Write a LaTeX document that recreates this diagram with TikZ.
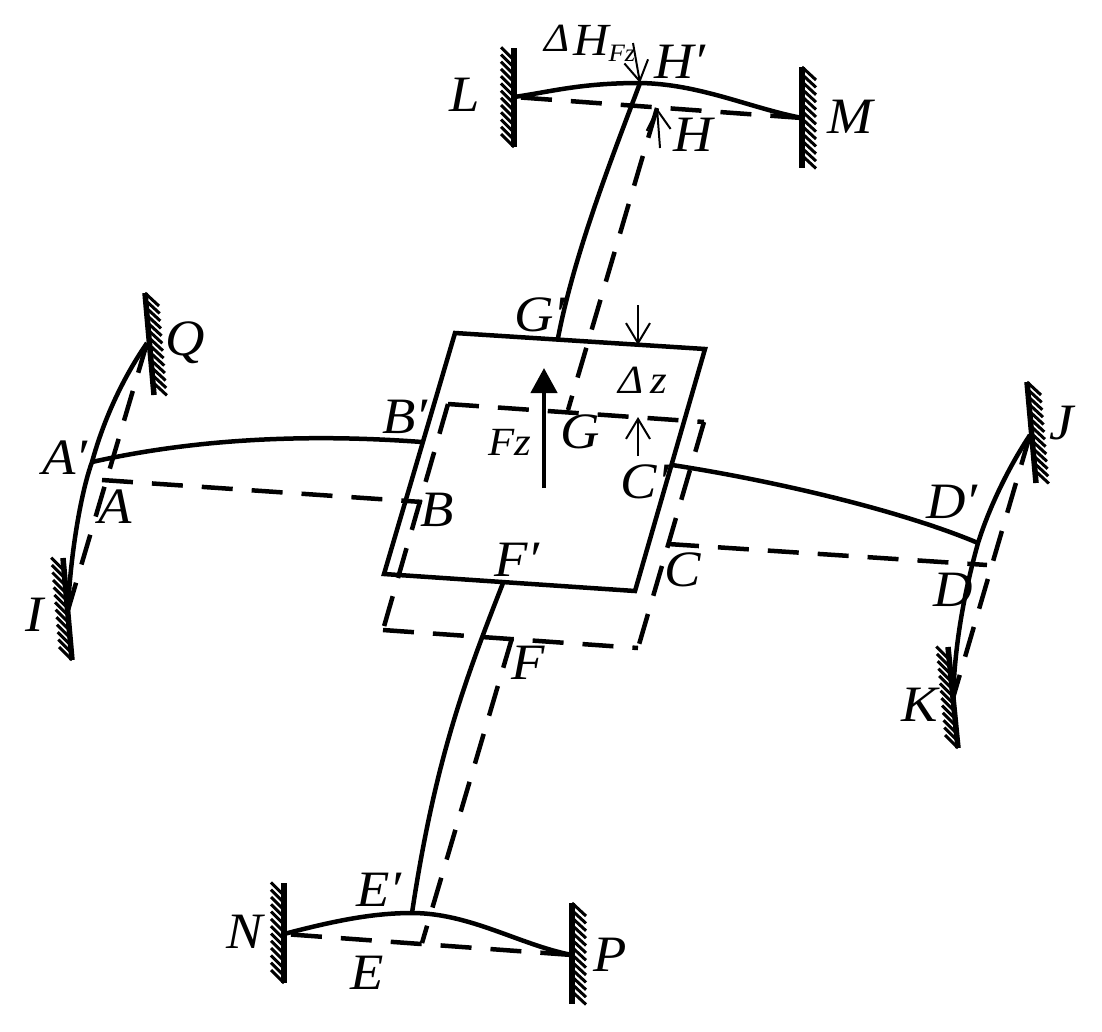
\documentclass[tikz,border=0pt]{standalone}
\usepackage{fontspec}
\usepackage{tikz}
\usepackage{xcolor}
\usetikzlibrary{calc,arrows.meta}
\setmainfont[FakeStretch=1.07]{Liberation Serif}

\newcommand{\hatchwall}[4]{%
        \draw[wallline] (#1) -- (#2);
        \foreach \i in {0,...,12} {
                \draw[hatchline] ($(#1)!\i*0.073!(#2)$) -- ++(#3,#4);
        }
}

\tikzset{
        solidline/.style={line width=4.5pt},
        dashline/.style={line width=4.5pt,dash pattern=on 31pt off 19pt},
        wallline/.style={line width=5.5pt},
        hatchline/.style={line width=3pt},
        thinarrow/.style={line width=2pt,-{Straight Barb[length=20pt,width=24pt]}},
        lbl/.style={font=\fontsize{51}{55}\selectfont\itshape,inner sep=0pt},
        smalllbl/.style={font=\fontsize{40}{44}\selectfont\itshape,inner sep=0pt}
}

\begin{document}
\begin{tikzpicture}[x=1pt,y=-1pt]
        \useasboundingbox (0,0) rectangle (1102,1031);

        % Corners of the plate, moved and at rest
        \coordinate (P1) at (455,333);
        \coordinate (P2) at (705,349);
        \coordinate (P3) at (635,591);
        \coordinate (P4) at (384,574);
        \coordinate (R1) at (448,404);
        \coordinate (R2) at (704,422);
        \coordinate (R3) at (638,648);
        \coordinate (R4) at (383,630);

        % Points on the arms
        \coordinate (Ap) at (92,462);
        \coordinate (Bp) at (422,442);
        \coordinate (Cp) at (672,465);
        \coordinate (Dp) at (978,543);
        \coordinate (Ep) at (412,913);
        \coordinate (Fp) at (503,583);
        \coordinate (Gp) at (558,338);
        \coordinate (Hp) at (640,83);
        \coordinate (A) at (102,480);
        \coordinate (B) at (422,502);
        \coordinate (C) at (668,544);
        \coordinate (D) at (987,565);
        \coordinate (E) at (422,943);
        \coordinate (F) at (512,638);
        \coordinate (G) at (568,410);
        \coordinate (H) at (657,108);

        % Fixed ends of the beams
        \coordinate (I) at (68,610);
        \coordinate (J) at (1030,435);
        \coordinate (K) at (953,698);
        \coordinate (L) at (514,97);
        \coordinate (M) at (802,118);
        \coordinate (N) at (284,934);
        \coordinate (P) at (572,955);
        \coordinate (Q) at (147,343);

        % Draw the walls
        \coordinate (La) at (514,147);
        \coordinate (Lb) at (514,48);
        \coordinate (Ma) at (802,67);
        \coordinate (Mb) at (802,168);
        \coordinate (Na) at (284,983);
        \coordinate (Nb) at (284,883);
        \coordinate (Pa) at (572,903);
        \coordinate (Pb) at (572,1004);
        \coordinate (Qa) at (145,293);
        \coordinate (Qb) at (154,395);
        \coordinate (Ia) at (72,660);
        \coordinate (Ib) at (63,558);
        \coordinate (Ja) at (1027,382);
        \coordinate (Jb) at (1036,483);
        \coordinate (Ka) at (958,748);
        \coordinate (Kb) at (948,647);
        \hatchwall{La}{Lb}{-13}{-13}
        \hatchwall{Ma}{Mb}{14}{13}
        \hatchwall{Na}{Nb}{-13}{-13}
        \hatchwall{Pa}{Pb}{14}{13}
        \hatchwall{Qa}{Qb}{14}{13}
        \hatchwall{Ia}{Ib}{-13}{-13}
        \hatchwall{Ja}{Jb}{14}{13}
        \hatchwall{Ka}{Kb}{-13}{-13}

        % Draw the plate
        \draw[solidline,line join=miter] (P1) -- (P2) -- (P3) -- (P4) -- cycle;
        \draw[dashline] (R1) -- (R2);
        \draw[dashline] (R1) -- (R4);
        \draw[dashline] (R2) -- (R3);
        \draw[dashline] (R4) -- (R3);

        % Draw the bent arms
        \draw[solidline] (Ap) .. controls (190,440) and (300,433) .. (Bp);
        \draw[solidline] (Cp) .. controls (770,480) and (900,510) .. (Dp);
        \draw[solidline] (Fp) .. controls (465,680) and (435,760) .. (Ep);
        \draw[solidline] (Gp) .. controls (575,250) and (615,150) .. (Hp);

        % Draw the arms at rest
        \draw[dashline] (A) -- (B);
        \draw[dashline] (C) -- (D);
        \draw[dashline] (F) -- (E);
        \draw[dashline] (H) -- (G);

        % Draw the beams
        \draw[solidline] (L) .. controls (550,92) and (580,83) .. (Hp)
                .. controls (700,84) and (750,108) .. (M);
        \draw[solidline] (N) .. controls (330,922) and (370,913) .. (Ep)
                .. controls (470,913) and (520,945) .. (P);
        \draw[solidline] (Q) .. controls (125,375) and (105,415) .. (Ap)
                .. controls (80,495) and (70,560) .. (I);
        \draw[solidline] (J) .. controls (1010,465) and (990,505) .. (Dp)
                .. controls (965,590) and (955,640) .. (K);
        \draw[dashline,dash phase=43pt] (L) -- (M);
        \draw[dashline,dash phase=43pt] (N) -- (P);
        \draw[dashline] (Q) -- (I);
        \draw[dashline] (J) -- (K);

        % Draw the force arrow
        \coordinate (Fa) at (544,488);
        \coordinate (Fb) at (544,368);
        \draw[solidline,-{Triangle[length=25pt,width=26pt]}] (Fa) -- (Fb);

        % Draw the displacement arrows
        \coordinate (Za) at (638,305);
        \coordinate (Zb) at (638,345);
        \coordinate (Zc) at (638,456);
        \coordinate (Zd) at (638,417);
        \coordinate (Ha) at (633,43);
        \coordinate (Hb) at (660,148);
        \draw[thinarrow] (Za) -- (Zb);
        \draw[thinarrow] (Zc) -- (Zd);
        \draw[thinarrow] (Ha) -- (Hp);
        \draw[thinarrow] (Hb) -- (H);

        % Label the points
        \node[lbl] (lblA) at (115,507) {A};
        \node[lbl] (lblAp) at (65,458) {A′};
        \node[lbl] (lblB) at (437,510) {B};
        \node[lbl] (lblBp) at (405,417) {B′};
        \node[lbl] (lblC) at (683,570) {C};
        \node[lbl] (lblCp) at (645,482) {C′};
        \node[lbl] (lblD) at (953,590) {D};
        \node[lbl] (lblDp) at (952,502) {D′};
        \node[lbl] (lblE) at (367,973) {E};
        \node[lbl] (lblEp) at (379,890) {E′};
        \node[lbl] (lblF) at (528,663) {F};
        \node[lbl] (lblFp) at (517,560) {F′};
        \node[lbl] (lblG) at (580,432) {G};
        \node[lbl] (lblGp) at (540,315) {G′};
        \node[lbl] (lblH) at (693,135) {H};
        \node[lbl] (lblHp) at (680,62) {H′};
        \node[lbl] (lblI) at (35,615) {I};
        \node[lbl] (lblJ) at (1062,423) {J};
        \node[lbl] (lblK) at (920,705) {K};
        \node[lbl] (lblL) at (465,95) {L};
        \node[lbl] (lblM) at (850,117) {M};
        \node[lbl] (lblN) at (245,932) {N};
        \node[lbl] (lblP) at (610,955) {P};
        \node[lbl] (lblQ) at (185,343) {Q};

        % Label the force and the displacements
        \node[smalllbl] (lblFz) at (510,442) {Fz};
        \node[smalllbl] (lblDz) at (643,380) {Δ\,z};
        \node[smalllbl] (lblDH) at (557,38) {Δ};
        \node[lbl,font=\fontsize{46}{50}\selectfont\itshape] (lblHF) at (591,40) {H};
        \node[inner sep=0pt,font=\fontsize{25}{28}\selectfont\itshape] (lblHFz) at (622,53) {Fz};
\end{tikzpicture}
\end{document}
